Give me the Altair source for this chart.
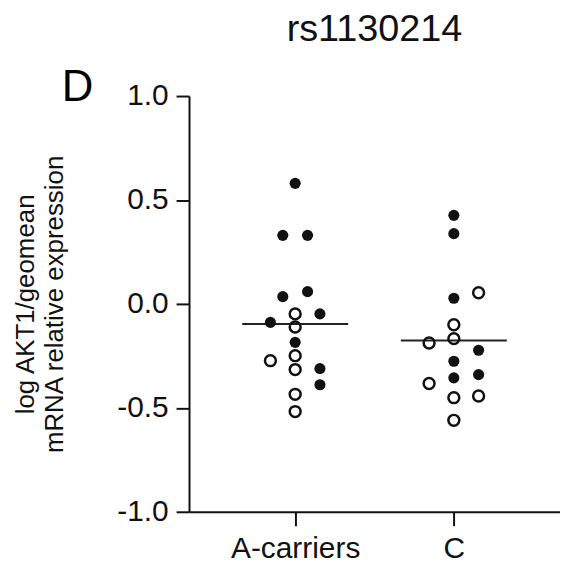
import altair as alt
import pandas as pd

# Group A-carriers
a_values = [0.58, 0.33, 0.33, 0.035, 0.059, -0.048, -0.048, -0.089, -0.111, -0.185,
            -0.273, -0.249, -0.316, -0.311, -0.389, -0.435, -0.518]
a_filled = [True, True, True, True, True, False, True, True, False, True,
            False, False, False, True, True, False, False]
a_slot = [0, -1, 1, -1, 1, 0, 2, -2, 0, 0, -2, 0, 0, 2, 2, 0, 0]

# Group C
c_values = [0.426, 0.338, 0.054, 0.027, -0.1, -0.167, -0.188, -0.223, -0.276, -0.356,
            -0.34, -0.383, -0.451, -0.443, -0.56]
c_filled = [True, True, False, True, False, False, False, True, True, True,
            True, False, False, False, False]
c_slot = [0, 0, 2, 0, 0, 0, -2, 2, 0, 0, 2, -2, 0, 2, 0]

categories = ["A-carriers", "C"]
y_ticks = [-1.0, -0.5, 0.0, 0.5, 1.0]

rows = []
for gi, (vals, fl, sl) in enumerate([(a_values, a_filled, a_slot), (c_values, c_filled, c_slot)]):
    for v, f, s in zip(vals, fl, sl):
        rows.append({"group": categories[gi], "gidx": gi + 1, "value": v,
                     "filled": f, "slot": s})
df = pd.DataFrame(rows)

FONT = "Liberation Sans"
xscale = alt.Scale(domain=[0.331, 2.669], nice=False, zero=False)
yscale = alt.Scale(domain=[-1.0, 1.0], nice=False)

base = alt.Chart(df).transform_calculate(xpos="datum.gidx + datum.slot * 0.078")

xaxis = alt.Axis(values=[1, 2], labelExpr="datum.value == 1 ? 'A-carriers' : 'C'",
                 title=None, grid=False, tickSize=14, tickWidth=2, domainWidth=2,
                 domainColor="#111", tickColor="#111", labelFontSize=30,
                 labelFont=FONT, labelColor="#111", labelPadding=8)
yaxis = alt.Axis(values=y_ticks,
                 labelExpr="replace(format(datum.value, '.1f'), '\u2212', '-')",
                 grid=False, tickSize=13, tickWidth=2,
                 domainWidth=2, domainColor="#111", tickColor="#111",
                 labelFontSize=30, labelFont=FONT, labelColor="#111", labelPadding=8,
                 title=["log AKT1/geomean", "mRNA relative expression"],
                 titleFontSize=26, titleFont=FONT, titleFontWeight="normal",
                 titleColor="#111", titleLineHeight=30, titlePadding=49)

filled = base.transform_filter("datum.filled").mark_circle(size=125, color="#111", opacity=1).encode(
    x=alt.X("xpos:Q", scale=xscale, axis=xaxis),
    y=alt.Y("value:Q", scale=yscale, axis=yaxis),
)
hollow = base.transform_filter("!datum.filled").mark_point(
    shape="circle", size=120, filled=False, stroke="#111", strokeWidth=2.5, opacity=1
).encode(
    x=alt.X("xpos:Q", scale=xscale),
    y=alt.Y("value:Q", scale=yscale),
)
means = alt.Chart(df).transform_aggregate(
    mean="mean(value)", groupby=["gidx"]
).transform_calculate(
    lo="datum.gidx - 0.334", hi="datum.gidx + 0.334"
).mark_rule(color="#222", strokeWidth=2).encode(
    x=alt.X("lo:Q", scale=xscale),
    x2="hi:Q",
    y=alt.Y("mean:Q", scale=yscale),
)
panel = alt.Chart(pd.DataFrame({"t": ["D"]})).mark_text(
    fontSize=44, font=FONT, align="left", baseline="alphabetic", color="#000"
).encode(text="t:N", x=alt.value(-128), y=alt.value(5))

chart = alt.layer(means, hollow, filled, panel).properties(
    width=373, height=418,
    title=alt.TitleParams("rs1130214", fontSize=38, font=FONT, fontWeight="normal",
                          color="#111", anchor="middle", offset=17),
    autosize=alt.AutoSizeParams(type="none"),
    padding={"left": 182, "top": 87, "right": 0, "bottom": 55},
).configure_view(stroke=None)

chart.save("out.html", embed_options={"renderer": "svg", "actions": False})
